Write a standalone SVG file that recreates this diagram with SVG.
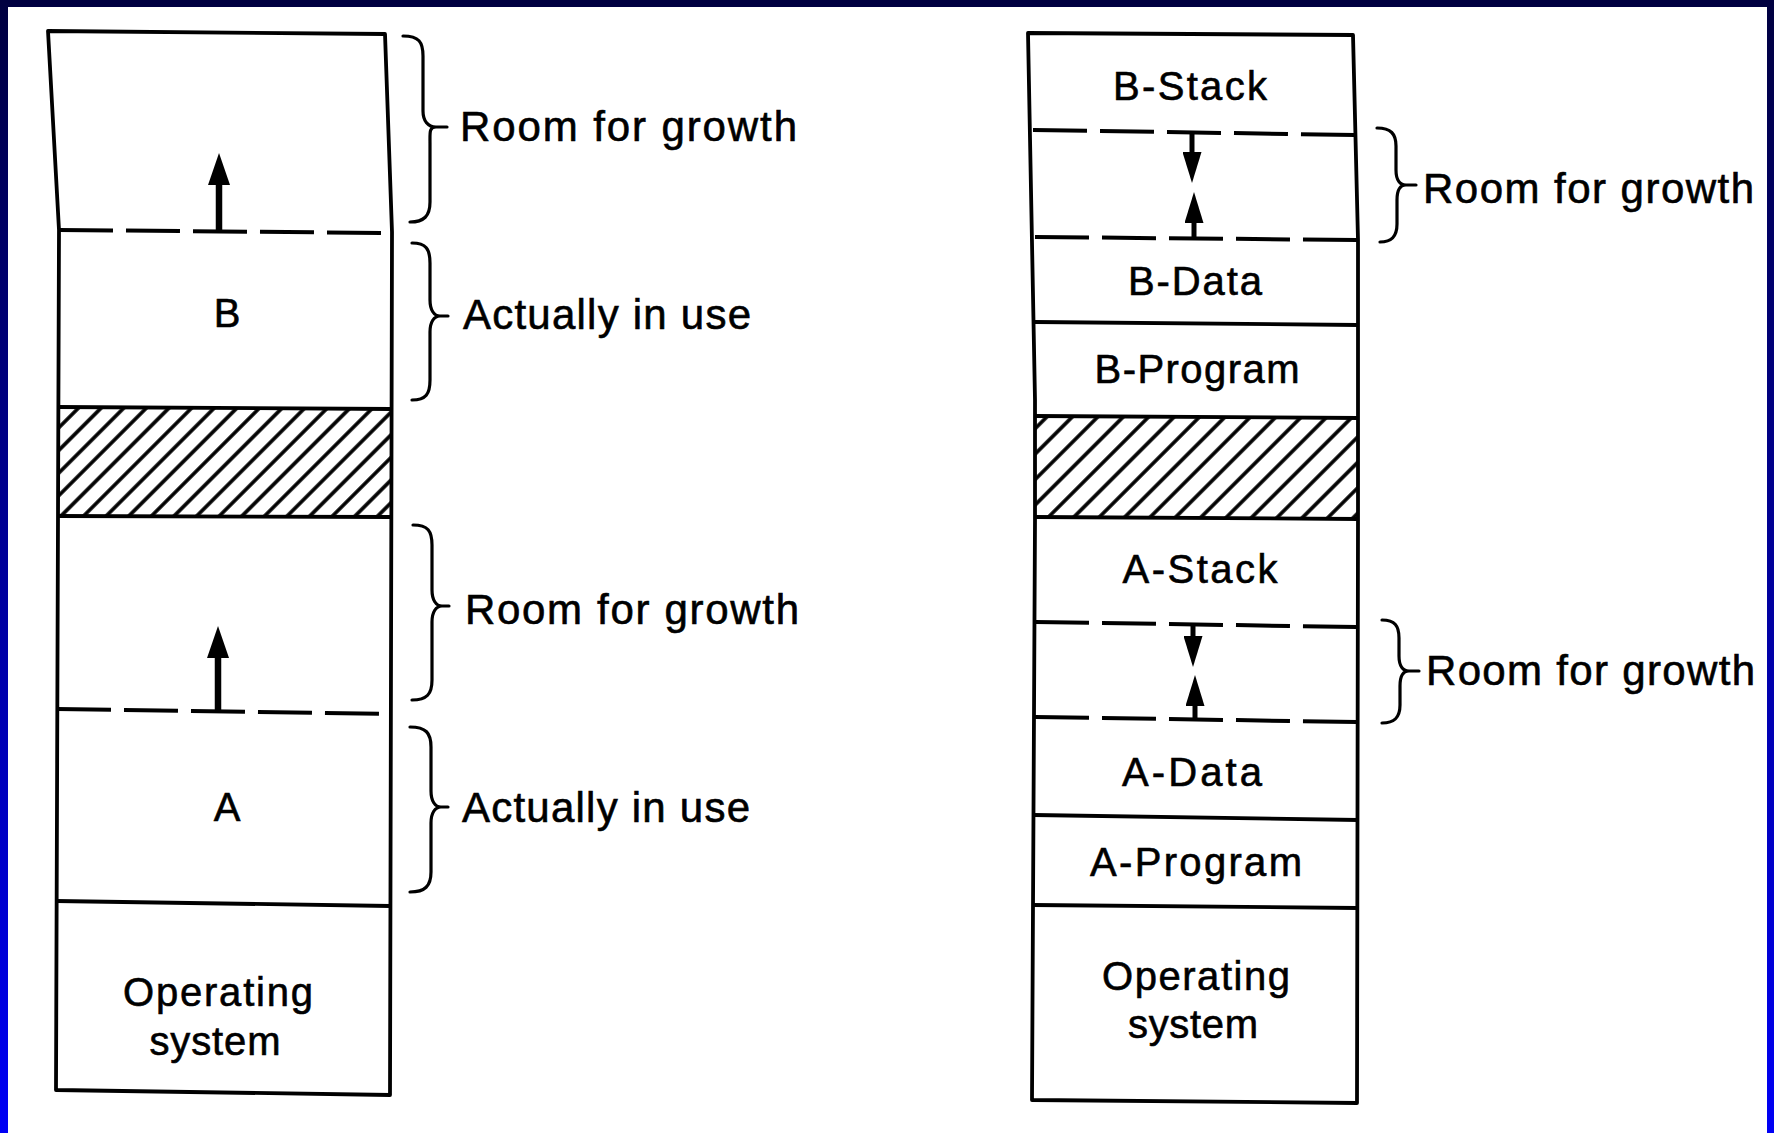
<svg xmlns="http://www.w3.org/2000/svg" width="1774" height="1133" viewBox="0 0 1774 1133">
<defs>
  <linearGradient id="bg" x1="0" y1="0" x2="0" y2="1">
    <stop offset="0" stop-color="#000040"/>
    <stop offset="1" stop-color="#0000f5"/>
  </linearGradient>
  <pattern id="hatchL" width="16" height="16" patternUnits="userSpaceOnUse" patternTransform="rotate(45)">
    <line x1="8" y1="-2" x2="8" y2="18" stroke="#000" stroke-width="3.6"/>
  </pattern>
  <pattern id="hatchR" width="18" height="18" patternUnits="userSpaceOnUse" patternTransform="rotate(45)">
    <line x1="9" y1="-2" x2="9" y2="20" stroke="#000" stroke-width="3.6"/>
  </pattern>
  <marker id="headL" viewBox="0 0 32 22" markerWidth="32" markerHeight="22" markerUnits="userSpaceOnUse" refX="2" refY="11" orient="auto">
    <path d="M0,0 L32,11 L0,22 Z" fill="#000"/>
  </marker>
  <marker id="headR" viewBox="0 0 31 19" markerWidth="31" markerHeight="19" markerUnits="userSpaceOnUse" refX="2" refY="9.5" orient="auto">
    <path d="M0,0 L31,9.5 L0,19 Z" fill="#000"/>
  </marker>
</defs>
<style>
  .edge{fill:none;stroke:#000;stroke-width:3.8;stroke-linejoin:round;stroke-linecap:square}
  .div{fill:none;stroke:#000;stroke-width:3.8}
  .dash{fill:none;stroke:#000;stroke-width:4;stroke-dasharray:54 13}
  .brace{fill:none;stroke:#000;stroke-width:3.2;stroke-linecap:round}
  .lbl{font-family:"Liberation Sans",Arial,sans-serif;font-size:42px;fill:#000;stroke:#000;stroke-width:0.6}
  .cell{font-family:"Liberation Sans",Arial,sans-serif;font-size:40px;fill:#000;stroke:#000;stroke-width:0.6;text-anchor:middle}
  .shaftL{stroke:#000;stroke-width:6.5;fill:none}
  .shaftR{stroke:#000;stroke-width:5;fill:none}
</style>

<rect x="0" y="0" width="1774" height="1133" fill="url(#bg)"/>
<rect x="8" y="7" width="1759" height="1126" fill="#fff"/>

<!-- LEFT COLUMN -->
<g id="left-column">
  <path class="edge" d="M48,31 L385,34 L392,232 L390,1095 L56,1090 L59,230 Z"/>
  <g id="left-free-b">
    <path class="dash" d="M59,230 L392,233"/>
  </g>
  <g id="left-b">
    <path class="div" d="M58,407 L392,409"/>
    <text class="cell" x="227" y="327" font-size="37" stroke-width="1.2">B</text>
  </g>
  <g id="left-hole">
    <polygon points="58,408 392,410 392,517 57,516" fill="url(#hatchL)"/>
    <path class="div" d="M57,516 L392,517"/>
  </g>
  <g id="left-free-a">
    <path class="dash" d="M57,709 L391,714"/>
  </g>
  <g id="left-a">
    <path class="div" d="M56,901 L390,906"/>
    <text class="cell" x="227" y="821" font-size="39">A</text>
  </g>
  <g id="left-os">
    <text class="cell" x="218" y="1006" font-size="38" textLength="190" lengthAdjust="spacing">Operating</text>
    <text class="cell" x="215" y="1055" font-size="38" textLength="131" lengthAdjust="spacing">system</text>
  </g>
</g>

<!-- RIGHT COLUMN -->
<g id="right-column">
  <path class="edge" d="M1028,33 L1353,35 L1358,240 L1358,520 L1357,1103 L1032,1100 L1035,520 L1035,400 Z"/>
  <g id="right-b-stack">
    <text class="cell" x="1190" y="100" textLength="154" lengthAdjust="spacing">B-Stack</text>
  </g>
  <g id="right-b-free">
    <path class="dash" d="M1033,130 L1356,135"/>
    <path class="dash" d="M1035,237 L1357,240"/>
  </g>
  <g id="right-b-data">
    <text class="cell" x="1195" y="295" textLength="134" lengthAdjust="spacing">B-Data</text>
    <path class="div" d="M1035,322 L1358,325"/>
  </g>
  <g id="right-b-program">
    <text class="cell" x="1197" y="383" textLength="205" lengthAdjust="spacing">B-Program</text>
    <path class="div" d="M1035,416 L1358,418"/>
  </g>
  <g id="right-hole">
    <polygon points="1035,416 1358,418 1358,519 1035,517" fill="url(#hatchR)"/>
    <path class="div" d="M1035,517 L1358,519"/>
  </g>
  <g id="right-a-stack">
    <text class="cell" x="1200" y="583" textLength="155" lengthAdjust="spacing">A-Stack</text>
  </g>
  <g id="right-a-free">
    <path class="dash" d="M1035,622 L1358,627"/>
    <path class="dash" d="M1035,717 L1358,722"/>
  </g>
  <g id="right-a-data">
    <text class="cell" x="1192" y="786" textLength="140" lengthAdjust="spacing">A-Data</text>
    <path class="div" d="M1034,815 L1358,820"/>
  </g>
  <g id="right-a-program">
    <text class="cell" x="1196" y="876" textLength="212" lengthAdjust="spacing">A-Program</text>
    <path class="div" d="M1033,905 L1357,908"/>
  </g>
  <g id="right-os">
    <text class="cell" x="1196" y="990" textLength="188" lengthAdjust="spacing">Operating</text>
    <text class="cell" x="1193" y="1038" textLength="130" lengthAdjust="spacing">system</text>
  </g>
</g>

<!-- BRACE ANNOTATIONS -->
<g id="annotations">
  <g id="ann-left-1">
    <path class="brace" d="M403,36 C419,36 423,42 423,56 L423,111 C423,121 428,127 436,127 L447,127 M436,127 C429,127 430,133 430,143 L430,202 C430,216 424,222 410,222"/>
    <text class="lbl" x="460" y="141" font-size="44" textLength="337" lengthAdjust="spacing">Room for growth</text>
  </g>
  <g id="ann-left-2">
    <path class="brace" d="M412,243 C426,243 430,249 430,263 L430,300 C430,310 434,316 440,316 L448,316 M440,316 C434,316 430,322 430,332 L430,380 C430,394 426,400 412,400"/>
    <text class="lbl" x="463" y="329" textLength="288" lengthAdjust="spacing">Actually in use</text>
  </g>
  <g id="ann-left-3">
    <path class="brace" d="M413,525 C428,525 432,531 432,545 L432,590 C432,600 436,606 442,606 L449,606 M442,606 C436,606 432,612 432,622 L432,680 C432,694 427,700 412,700"/>
    <text class="lbl" x="465" y="624" font-size="44" textLength="334" lengthAdjust="spacing">Room for growth</text>
  </g>
  <g id="ann-left-4">
    <path class="brace" d="M410,727 C426,727 431,733 431,747 L431,791 C431,801 435,807 441,807 L448,807 M441,807 C435,807 431,813 431,823 L431,872 C431,886 425,892 410,892"/>
    <text class="lbl" x="462" y="822" textLength="288" lengthAdjust="spacing">Actually in use</text>
  </g>
  <g id="ann-right-1">
    <path class="brace" d="M1377,128 C1391,128 1396,134 1396,146 L1396,170 C1396,180 1400,185 1406,185 L1416,185 M1406,185 C1400,185 1397,190 1397,200 L1397,224 C1397,236 1392,242 1380,242"/>
    <text class="lbl" x="1423" y="203" font-size="44" textLength="331" lengthAdjust="spacing">Room for growth</text>
  </g>
  <g id="ann-right-2">
    <path class="brace" d="M1382,620 C1395,620 1399,626 1399,638 L1399,656 C1399,666 1403,671 1409,671 L1419,671 M1409,671 C1403,671 1400,676 1400,686 L1400,705 C1400,717 1395,723 1382,723"/>
    <text class="lbl" x="1426" y="685" font-size="44" textLength="329" lengthAdjust="spacing">Room for growth</text>
  </g>
</g>

<!-- CONNECTORS (growth arrows) -->
<g id="connectors">
  <line class="shaftL" x1="219" y1="231" x2="219" y2="183" marker-end="url(#headL)"/>
  <line class="shaftL" x1="218" y1="711" x2="218" y2="656" marker-end="url(#headL)"/>
  <line class="shaftR" x1="1192" y1="131" x2="1192" y2="154" marker-end="url(#headR)"/>
  <line class="shaftR" x1="1194" y1="239" x2="1194" y2="221" marker-end="url(#headR)"/>
  <line class="shaftR" x1="1193" y1="623" x2="1193" y2="638" marker-end="url(#headR)"/>
  <line class="shaftR" x1="1195" y1="721" x2="1195" y2="704" marker-end="url(#headR)"/>
</g>
</svg>
